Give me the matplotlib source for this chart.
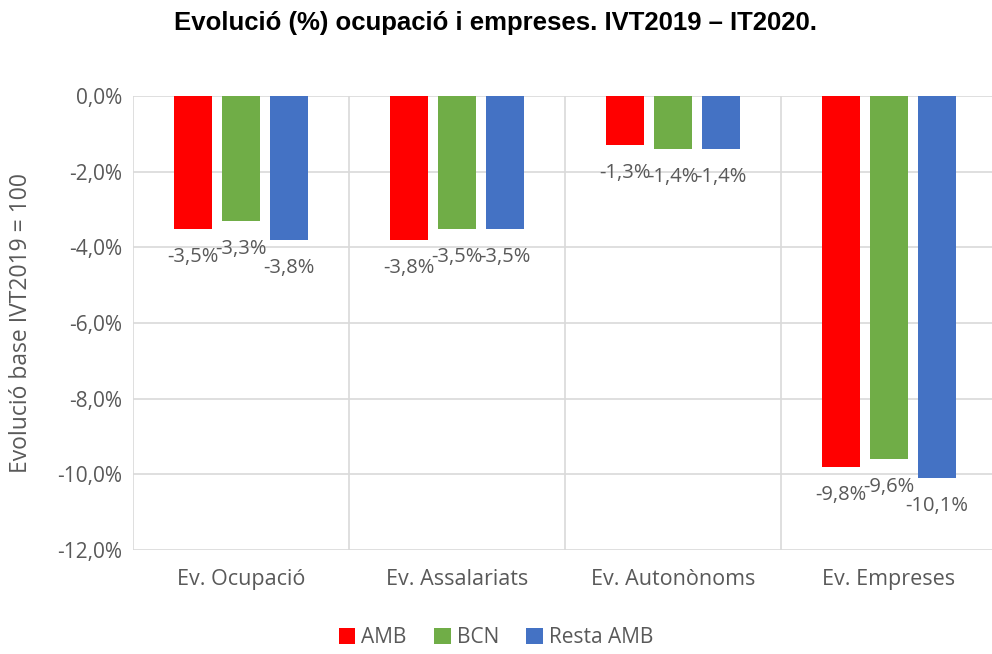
import numpy as np
import matplotlib.pyplot as plt

categories = ['Ev. Ocupació', 'Ev. Assalariats', 'Ev. Autonònoms', 'Ev. Empreses']
series = ['AMB', 'BCN', 'Resta AMB']
amb = [-3.5, -3.8, -1.3, -9.8]
bcn = [-3.3, -3.5, -1.4, -9.6]
resta = [-3.8, -3.5, -1.4, -10.1]
colors = ['#FF0000', '#70AD47', '#4472C4']

plt.rcParams['font.family'] = ['Open Sans', 'DejaVu Sans']
grey = '#595959'

fig = plt.figure(figsize=(9.92, 6.54), dpi=100)
ax = fig.add_axes([0.134, 0.159, 0.871, 0.694])

x = np.arange(len(categories))
w = 0.176
off = 0.222
for i, (vals, name) in enumerate(zip([amb, bcn, resta], series)):
    pos = x + (i - 1) * off
    ax.bar(pos, vals, w, color=colors[i], label=name, zorder=3)
    for p, v in zip(pos, vals):
        ax.annotate(('%.1f%%' % v).replace('.', ','), (p, v), xytext=(0, -13),
                    textcoords='offset points', ha='center', va='top',
                    fontsize=14.5, color=grey)

ax.set_xlim(-0.5, 3.5)
ax.set_ylim(-12, 0)
ticks = np.arange(-12, 0.1, 2)
ax.set_yticks(ticks)
ax.set_yticklabels([('%.1f%%' % t).replace('.', ',') for t in ticks],
                   fontsize=15, color=grey)
ax.set_xticks(x)
ax.set_xticklabels(categories, fontsize=15.5, color=grey)
ax.tick_params(length=0, pad=8)
ax.tick_params(axis='x', pad=14)
for t in ticks:
    ax.axhline(t, color='#D9D9D9', lw=1.2, zorder=1)
for b in [-0.5, 0.5, 1.5, 2.5]:
    ax.axvline(b, color='#D9D9D9', lw=1.2, zorder=1)
for s in ax.spines.values():
    s.set_visible(False)

ax.set_ylabel('Evolució base IVT2019 = 100', fontsize=16.5, color=grey)
ax.yaxis.set_label_coords(-0.116, 0.5)

fig.text(0.5, 0.965, 'Evolució (%) ocupació i empreses. IVT2019 – IT2020.',
         ha='center', va='center', fontsize=18.5, fontweight='bold',
         family='Liberation Sans', color='black')

fig.legend(loc='lower center', bbox_to_anchor=(0.5, -0.02), ncol=3, frameon=False,
           fontsize=15, handlelength=0.8, handleheight=0.8, handletextpad=0.3,
           columnspacing=1.3, labelcolor=grey)

fig.savefig('out.png', dpi=100)
